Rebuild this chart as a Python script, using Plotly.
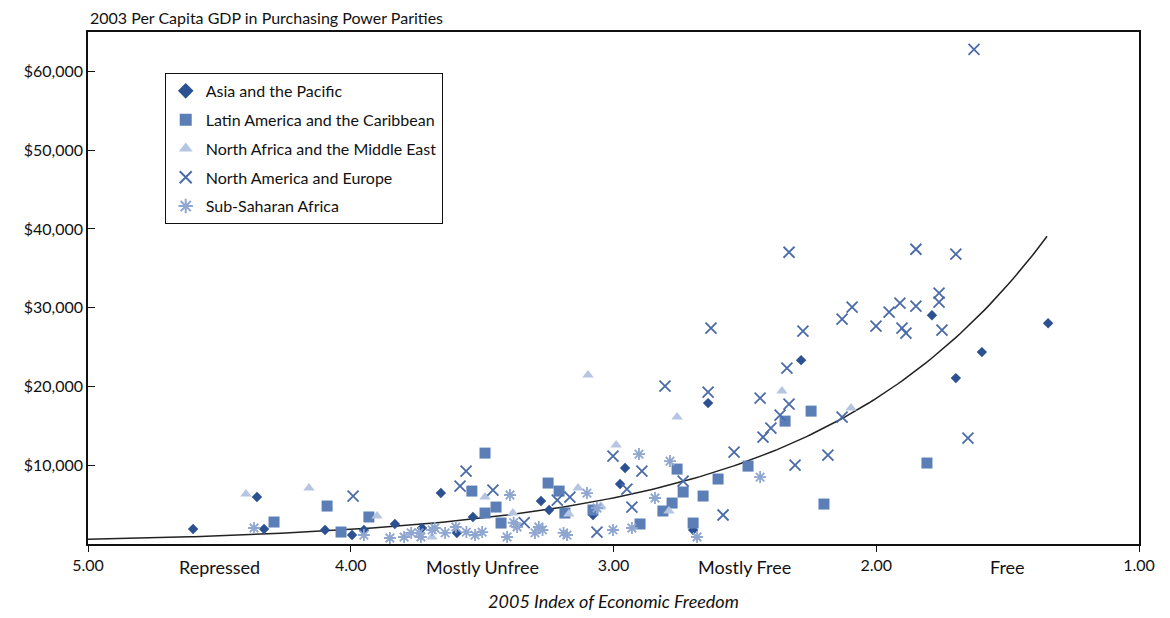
import plotly.graph_objects as go
import numpy as np

# ---- data: (index score, GDP per capita PPP) ----
asia_x = [4.60, 4.357, 4.33, 4.098, 3.995, 3.95, 3.832, 3.657, 3.729, 3.596, 3.535, 3.276, 3.245,
          3.078, 2.975, 2.956, 2.640, 2.697, 2.286, 1.788, 1.346, 1.598, 1.697]
asia_y = [1900, 5960, 1900, 1780, 1140, 1780, 2540, 6470, 2030, 1400, 3430, 5450, 4310,
          3680, 7610, 9640, 17890, 1780, 23340, 29050, 28030, 24360, 21060]

latam_x = [4.292, 4.090, 3.931, 4.037, 3.489, 3.539, 3.447, 3.489, 3.428, 3.249, 3.207, 3.185, 3.078,
           2.899, 2.758, 2.777, 2.812, 2.735, 2.659, 2.697, 2.602, 2.488, 2.347, 2.248, 2.199, 1.807]
latam_y = [2790, 4820, 3430, 1520, 11540, 6720, 4690, 3930, 2660, 7740, 6720, 3930, 4310,
           2540, 9510, 5200, 4190, 6600, 6090, 2660, 8250, 9890, 15600, 16870, 5070, 10280]

mena_x = [4.399, 4.159, 3.900, 3.489, 3.383, 3.691, 3.135, 3.051, 2.990, 3.097, 3.048, 2.758,
          2.789, 2.359, 2.096, 3.17]
mena_y = [6340, 7100, 3550, 5960, 3930, 890, 7100, 4690, 12560, 21440, 4820, 16110,
          4190, 19410, 17250, 3800]

naeu_x = [3.991, 3.561, 3.584, 3.459, 3.214, 3.166, 3.063, 3.002, 2.949, 2.892, 2.930, 2.804,
          2.640, 2.735, 2.583, 2.541, 2.442, 2.431, 2.401, 2.340, 2.332, 2.366, 2.309, 2.184,
          2.130, 2.332, 2.629, 2.279, 1.849, 2.092, 2.130, 2.001, 1.951, 1.910, 1.849, 1.902,
          1.887, 1.761, 1.761, 1.750, 1.628, 1.697, 1.651, 3.34]
naeu_y = [6090, 9260, 7360, 6850, 5580, 5960, 1520, 11160, 6980, 9260, 4690, 20040,
          19280, 7990, 3680, 11670, 18520, 13570, 14720, 22330, 17760, 16360, 10020, 11290,
          16110, 37040, 27400, 27020, 37420, 30060, 28540, 27650, 29430, 30570, 30190, 27400,
          26770, 31840, 30700, 27150, 62790, 36790, 13450, 2700]

ssa_x = [4.368, 3.950, 3.851, 3.797, 3.733, 3.680, 3.641, 3.600, 3.527, 3.50, 3.405, 3.367,
         3.284, 3.299, 3.27, 3.177, 3.101, 3.063, 3.002, 2.930, 2.903, 3.394, 3.69, 3.56,
         2.785, 2.842, 2.442, 2.682, 3.38, 3.19, 3.77, 3.74]
ssa_y = [2030, 1140, 760, 890, 890, 2030, 1400, 2160, 1140, 1520, 890, 2160,
         2160, 1400, 1780, 1140, 6470, 4570, 1780, 2030, 11420, 6220, 1780, 1520,
         10530, 5840, 8500, 890, 2700, 1400, 1400, 1400]

# exponential trend line coefficients
trend_a = 184500
trend_b = 1.15
trend_x_start, trend_x_end = 5.0, 1.35

y_ticks = [10000, 20000, 30000, 40000, 50000, 60000]
y_tick_text = ["$10,000", "$20,000", "$30,000", "$40,000", "$50,000", "$60,000"]
x_ticks = [5, 4, 3, 2, 1]
x_tick_text = ["5.00", "4.00", "3.00", "2.00", "1.00"]
zone_x = [4.5, 3.5, 2.5, 1.5]
zone_names = ["Repressed", "Mostly Unfree", "Mostly Free", "Free"]

FONT = "Lato"
fig = go.Figure()

tx = np.linspace(trend_x_start, trend_x_end, 200)
fig.add_trace(go.Scatter(x=tx, y=trend_a * np.exp(-trend_b * tx), mode="lines",
                         line=dict(color="#222222", width=1.5), showlegend=False,
                         hoverinfo="skip"))

series = [
    ("Asia and the Pacific", asia_x, asia_y,
     dict(symbol="diamond", size=8, color="#2C5192")),
    ("Latin America and the Caribbean", latam_x, latam_y,
     dict(symbol="square", size=11, color="#5B7EB6")),
    ("North Africa and the Middle East", mena_x, mena_y,
     dict(symbol="triangle-up", size=10, color="#B6C6E2")),
    ("North America and Europe", naeu_x, naeu_y,
     dict(symbol="x-thin-open", size=11, color="#4A6BAA",
          line=dict(color="#4A6BAA", width=1.8))),
    ("Sub-Saharan Africa", ssa_x, ssa_y,
     dict(symbol="asterisk-open", size=10, color="#8EA6D0",
          line=dict(color="#8EA6D0", width=1.8))),
]
for i, (name, xs, ys, mk) in enumerate(series):
    fig.add_trace(go.Scatter(x=xs, y=ys, mode="markers", name=name, marker=mk,
                             legendgroup=f"g{i}"))

for xv, name in zip(zone_x, zone_names):
    fig.add_annotation(x=xv, y=-23 / 512, xref="x", yref="paper", text=name,
                       showarrow=False, yanchor="middle",
                       font=dict(family=FONT, size=18, color="#111111"))

fig.add_annotation(x=0, y=1, xref="paper", yref="paper", xanchor="left", yanchor="bottom",
                   yshift=3,
                   text="2003 Per Capita GDP in Purchasing Power Parities", showarrow=False,
                   font=dict(family=FONT, size=16, color="#111111"))

fig.update_layout(
    width=1170, height=618,
    margin=dict(l=80, r=39, t=24, b=82),
    paper_bgcolor="white", plot_bgcolor="white",
    font=dict(family=FONT, size=15, color="#111111"),
    showlegend=True,
    legend=dict(x=0.073, y=0.92, xanchor="left", yanchor="top",
                bgcolor="white", bordercolor="#111111", borderwidth=1,
                font=dict(family=FONT, size=16, color="#111111"),
                tracegroupgap=5, itemsizing="constant", itemwidth=30),
    xaxis=dict(range=[5, 1], tickvals=x_ticks, ticktext=x_tick_text,
               ticks="outside", ticklen=6, tickcolor="#111111",
               showgrid=False, zeroline=False, showline=True, linecolor="#111111",
               linewidth=1.5, mirror=True,
               tickfont=dict(family=FONT, size=16),
               title=dict(text="<i>2005 Index of Economic Freedom</i>",
                          font=dict(family=FONT, size=18), standoff=22)),
    yaxis=dict(range=[0, 65000], tickvals=y_ticks, ticktext=y_tick_text,
               ticks="inside", ticklen=7, tickcolor="#111111",
               showgrid=False, zeroline=False, showline=True, linecolor="#111111",
               linewidth=1.5, mirror=True,
               tickfont=dict(family=FONT, size=16)),
)

fig.write_html("out.html")
